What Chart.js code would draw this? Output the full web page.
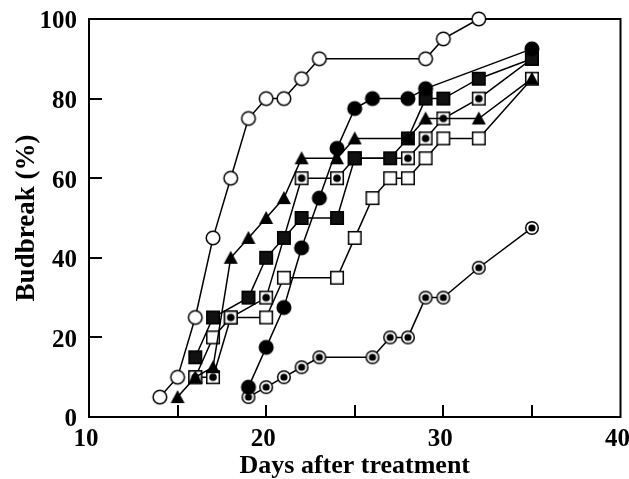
<!DOCTYPE html>
<html>
<head>
<meta charset="utf-8">
<script src="https://cdn.jsdelivr.net/npm/chart.js@4.4.1/dist/chart.umd.min.js"></script>
<style>
  html, body { margin: 0; padding: 0; background: #fff; }
  #wrap { width: 629px; height: 479px; }
</style>
</head>
<body>
<div id="wrap"><canvas id="budChart" width="629" height="479"></canvas></div>
<script>
// days after treatment / budbreak (%) for each treatment
const openCircleDays = [14, 15, 16, 17, 18, 19, 20, 21, 22, 23, 29, 30, 32];
const openCircleBreak = [5, 10, 25, 45, 60, 75, 80, 80, 85, 90, 90, 95, 100];

const triangleDays = [15, 16, 17, 18, 19, 20, 21, 22, 24, 25, 28, 29, 32, 35];
const triangleBreak = [5, 10, 12.5, 40, 45, 50, 55, 65, 65, 70, 70, 75, 75, 85];

const filledCircleDays = [19, 20, 21, 22, 23, 24, 25, 26, 28, 29, 35];
const filledCircleBreak = [7.5, 17.5, 27.5, 42.5, 55, 67.5, 77.5, 80, 80, 82.5, 92.5];

const filledSquareDays = [16, 17, 19, 20, 21, 22, 24, 25, 27, 28, 29, 30, 32, 35];
const filledSquareBreak = [15, 25, 30, 40, 45, 50, 50, 65, 65, 70, 80, 80, 85, 90];

const dotSquareDays = [16, 17, 18, 20, 22, 24, 25, 28, 29, 30, 32, 35];
const dotSquareBreak = [10, 10, 25, 30, 60, 60, 65, 65, 70, 75, 80, 90];

const openSquareDays = [16, 17, 18, 20, 21, 24, 25, 26, 27, 28, 29, 30, 32, 35];
const openSquareBreak = [10, 20, 25, 25, 35, 35, 45, 55, 60, 60, 65, 70, 70, 85];

const targetCircleDays = [19, 20, 21, 22, 23, 26, 27, 28, 29, 30, 32, 35];
const targetCircleBreak = [5, 7.5, 10, 12.5, 15, 15, 20, 20, 30, 30, 37.5, 47.5];

const xTicks = { min: 10, max: 40, step: 5 };
const yTicks = { min: 0, max: 100, step: 20 };

// Marker images
function makeMarker(kind) {
  const c = document.createElement("canvas");
  c.width = 18;
  c.height = 18;
  const g = c.getContext("2d");
  g.lineWidth = 1.5;
  g.strokeStyle = "#000";
  g.fillStyle = "#000";
  if (kind === "openCircle" || kind === "filledCircle" || kind === "target") {
    g.beginPath();
    g.arc(9, 9, kind === "target" ? 6.3 : 6.8, 0, Math.PI * 2);
    g.fillStyle = kind === "filledCircle" ? "#000" : "#fff";
    g.fill();
    g.stroke();
    if (kind === "target") {
      g.beginPath();
      g.arc(9, 9, 3.6, 0, Math.PI * 2);
      g.fillStyle = "#000";
      g.fill();
    }
  } else if (kind === "triangle") {
    g.beginPath();
    g.moveTo(9, 2);
    g.lineTo(16, 15);
    g.lineTo(2, 15);
    g.closePath();
    g.fill();
  } else {
    g.fillStyle = kind === "filledSquare" ? "#111" : "#fff";
    g.fillRect(2.75, 2.75, 12.5, 12.5);
    g.strokeRect(2.75, 2.75, 12.5, 12.5);
    if (kind === "dotSquare") {
      g.beginPath();
      g.arc(9, 9, 3.8, 0, Math.PI * 2);
      g.fillStyle = "#000";
      g.fill();
    }
  }
  return c;
}

function series(days, values, kind) {
  return {
    data: days.map((d, i) => ({ x: d, y: values[i] })),
    borderColor: "#000",
    borderWidth: 1.5,
    tension: 0,
    clip: false,
    pointStyle: makeMarker(kind),
    pointRadius: 7,
    pointHoverRadius: 7
  };
}

// Box frame and inward tick marks
const frameTicks = {
  id: "frameTicks",
  afterDraw(chart) {
    const ctx = chart.ctx;
    const a = chart.chartArea;
    const xs = chart.scales.x;
    const ys = chart.scales.y;
    ctx.save();
    ctx.strokeStyle = "#000";
    ctx.lineWidth = 2;
    for (let v = xTicks.min + xTicks.step; v < xTicks.max; v += xTicks.step) {
      const px = Math.round(xs.getPixelForValue(v));
      ctx.beginPath();
      ctx.moveTo(px, a.bottom + 1);
      ctx.lineTo(px, a.bottom - 12);
      ctx.stroke();
    }
    for (let v = yTicks.min + yTicks.step; v < yTicks.max; v += yTicks.step) {
      const py = Math.round(ys.getPixelForValue(v));
      ctx.beginPath();
      ctx.moveTo(a.left, py);
      ctx.lineTo(a.left + 13, py);
      ctx.stroke();
    }
    ctx.restore();
  },
  beforeDatasetsDraw(chart) {
    const { ctx, chartArea: a } = chart;
    ctx.save();
    ctx.strokeStyle = "#000";
    ctx.lineWidth = 2;
    ctx.strokeRect(a.left, a.top, a.right - a.left, a.bottom - a.top);
    ctx.restore();
  }
};

const serif = "'Liberation Serif', 'Times New Roman', serif";
const tickFont = { family: serif, size: 25, weight: "bold" };

new Chart(document.getElementById("budChart"), {
  type: "line",
  data: {
    datasets: [
      series(triangleDays, triangleBreak, "triangle"),
      series(openCircleDays, openCircleBreak, "openCircle"),
      series(filledCircleDays, filledCircleBreak, "filledCircle"),
      series(filledSquareDays, filledSquareBreak, "filledSquare"),
      series(targetCircleDays, targetCircleBreak, "target"),
      series(dotSquareDays, dotSquareBreak, "dotSquare"),
      series(openSquareDays, openSquareBreak, "openSquare")
    ]
  },
  options: {
    responsive: false,
    animation: false,
    devicePixelRatio: 1,
    layout: { padding: { top: 19, right: 8, bottom: 0, left: 0 } },
    plugins: { legend: { display: false }, tooltip: { enabled: false } },
    scales: {
      x: {
        type: "linear",
        min: xTicks.min,
        max: xTicks.max,
        ticks: {
          stepSize: xTicks.step,
          callback: v => (v % 10 === 0 ? v : ""),
          font: tickFont,
          color: "#000",
          padding: 8,
          maxRotation: 0,
          autoSkip: false,
          labelOffset: -3
        },
        grid: { display: false, drawTicks: false },
        border: { display: false },
        title: {
          display: true,
          text: "Days after treatment",
          font: { family: serif, size: 26, weight: "bold", lineHeight: 1 },
          color: "#000",
          padding: { top: 0, bottom: 0 }
        },
        afterFit(s) {
          s.height = 62;
          s.paddingLeft = 0;
          s.paddingRight = 0;
        }
      },
      y: {
        min: yTicks.min,
        max: yTicks.max,
        ticks: {
          stepSize: yTicks.step,
          font: tickFont,
          color: "#000",
          padding: 12,
          labelOffset: 3
        },
        grid: { display: false, drawTicks: false },
        border: { display: false },
        title: {
          display: true,
          text: "Budbreak (%)",
          font: { family: serif, size: 27, weight: "bold", lineHeight: 1 },
          color: "#000",
          padding: { top: 14, bottom: 0 }
        },
        afterFit(s) {
          s.width = 89;
          s.paddingTop = 0;
          s.paddingBottom = 0;
        }
      }
    }
  },
  plugins: [frameTicks]
});
</script>
</body>
</html>
